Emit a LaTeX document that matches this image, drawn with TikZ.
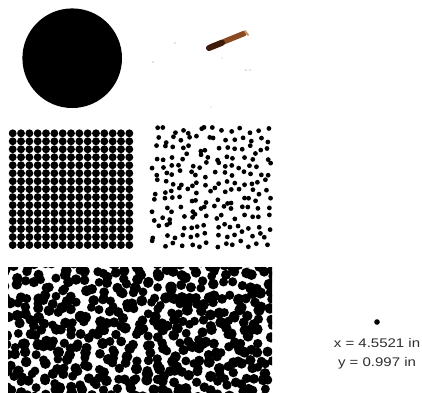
\documentclass[tikz,border=0pt]{standalone}
\usepackage{fontspec}
\setmainfont{Liberation Sans}
\definecolor{rodDark}{HTML}{3E1C0C}
\definecolor{rodMid}{HTML}{8A4A22}
\definecolor{rodLight}{HTML}{C89A70}
\definecolor{speck}{HTML}{C8C8C8}
\definecolor{labelgray}{HTML}{2E2E2E}
\tikzset{
  dotfill/.style={fill=black},
  labeltext/.style={text=labelgray,font=\fontsize{12.5}{14}\selectfont,inner sep=0pt,xscale=1.2}
}
\begin{document}
\begin{tikzpicture}[x=1pt,y=-1pt]
\useasboundingbox (0,0) rectangle (422,392);
% big disc
\fill[black] (72.2,58.2) circle (49.8);
% rod
\draw[rodMid,line width=5.5pt,line cap=round] (212,46.5) -- (244,33.5);
\draw[rodDark,line width=6pt,line cap=round] (209,48) -- (222,42.8);
\draw[rodLight,line width=2pt,line cap=round] (245,31) -- (248,35);
% faint specks
\fill[speck] (175,43) circle (0.9);
\fill[speck] (153,62) circle (0.8);
\fill[speck] (246,70) circle (1.0);
\fill[speck] (250,70) circle (0.8);
\fill[speck] (211,107) circle (0.7);
\fill[speck] (222,58) circle (0.7);
% regular grid
\foreach \i in {0,...,14}{
  \foreach \j in {0,...,14}{
    \fill[dotfill] ({12.7+8.33*\i},{133.3+7.98*\j}) circle (3.95);
  }
}
% sparse random dots (jittered grid)
\pgfmathsetseed{4711}
\foreach \i in {0,...,13}{
  \foreach \j in {0,...,13}{
    \pgfmathsetmacro\rx{152+8.6*\i+7*rnd}
    \pgfmathsetmacro\ry{127+8.7*\j+7*rnd}
    \fill[dotfill] (\rx,\ry) circle (2.4);
  }
}
% dense blobs (jittered grid)
\begin{scope}
\clip (8,267) rectangle (272,392);
\pgfmathsetseed{2024}
\foreach \i in {0,...,29}{
  \foreach \j in {0,...,14}{
    \pgfmathsetmacro\rx{4+9*\i+10*rnd}
    \pgfmathsetmacro\ry{262+9*\j+10*rnd}
    \pgfmathsetmacro\rr{4.3+1.4*rnd}
    \fill[dotfill] (\rx,\ry) circle (\rr);
  }
}
\end{scope}
% small dot and labels
\fill[black] (377,322) circle (2.8);
\node[labeltext] (lx) at (377,343) {x = 4.5521 in};
\node[labeltext] (ly) at (377,363) {y = 0.997 in};
\end{tikzpicture}
\end{document}
